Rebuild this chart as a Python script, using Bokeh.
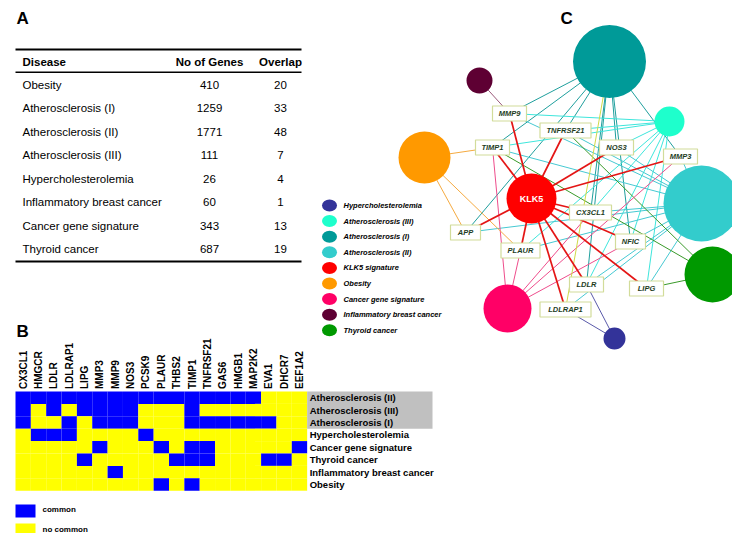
from bokeh.plotting import figure
from bokeh.models import Range1d
from bokeh.core.properties import value
from bokeh.embed import file_html
from bokeh.resources import INLINE
import math

FONT = value("Liberation Sans")

# ---------------- DATA ----------------
# Panel A table
table_diseases = ["Obesity", "Atherosclerosis (I)", "Atherosclerosis (II)", "Atherosclerosis (III)",
                  "Hypercholesterolemia", "Inflammatory breast cancer", "Cancer gene signature",
                  "Thyroid cancer"]
table_genes = [410, 1259, 1771, 111, 26, 60, 343, 687]
table_overlap = [20, 33, 48, 7, 4, 1, 13, 19]
table_headers = ["Disease", "No of Genes", "Overlap"]

# Panel B heatmap
heat_genes = ["CX3CL1", "HMGCR", "LDLR", "LDLRAP1", "LIPG", "MMP3", "MMP9", "NOS3", "PCSK9",
              "PLAUR", "THBS2", "TIMP1", "TNFRSF21", "GAS6", "HMGB1", "MAP2K2", "EVA1",
              "DHCR7", "EEF1A2"]
heat_rows = ["Atherosclerosis (II)", "Atherosclerosis (III)", "Atherosclerosis (I)",
             "Hypercholesterolemia", "Cancer gene signature", "Thyroid cancer",
             "Inflammatory breast cancer", "Obesity"]
heat_common = {
    "Atherosclerosis (II)": ["CX3CL1", "HMGCR", "LDLR", "LDLRAP1", "LIPG", "MMP3", "MMP9", "NOS3",
                             "PCSK9", "PLAUR", "THBS2", "TIMP1", "TNFRSF21", "GAS6", "HMGB1", "MAP2K2"],
    "Atherosclerosis (III)": ["CX3CL1", "LDLR", "LIPG", "MMP3", "MMP9", "NOS3", "TIMP1"],
    "Atherosclerosis (I)": ["CX3CL1", "LDLRAP1", "MMP3", "MMP9", "NOS3", "TIMP1", "TNFRSF21",
                            "GAS6", "HMGB1", "MAP2K2", "EVA1"],
    "Hypercholesterolemia": ["HMGCR", "LDLR", "LDLRAP1", "PCSK9"],
    "Cancer gene signature": ["MMP3", "PLAUR", "TIMP1", "TNFRSF21", "EEF1A2"],
    "Thyroid cancer": ["LIPG", "THBS2", "TIMP1", "TNFRSF21", "EVA1", "DHCR7"],
    "Inflammatory breast cancer": ["MMP9"],
    "Obesity": ["PLAUR", "TIMP1"],
}
heat_highlight = ["Atherosclerosis (II)", "Atherosclerosis (III)", "Atherosclerosis (I)"]
heat_legend = ["common", "no common"]

# Panel C network
net_nodes = ["Atherosclerosis (I)", "Inflammatory breast cancer", "Atherosclerosis (III)",
             "Obesity", "KLK5 signature", "Atherosclerosis (II)", "Thyroid cancer",
             "Cancer gene signature", "Hypercholesterolemia"]
net_genes = ["MMP9", "TNFRSF21", "TIMP1", "NOS3", "MMP3", "CX3CL1", "APP", "NFIC", "PLAUR",
             "LDLR", "LIPG", "LDLRAP1"]
net_edges = {
    "KLK5 signature": ["MMP9", "TNFRSF21", "TIMP1", "NOS3", "MMP3", "CX3CL1", "APP", "NFIC",
                       "PLAUR", "LDLR", "LIPG", "LDLRAP1"],
    "Atherosclerosis (I)": ["MMP9", "APP", "TNFRSF21", "CX3CL1", "NOS3", "NFIC", "MMP3", "LDLR", "TIMP1"],
    "Atherosclerosis (III)": ["MMP9", "TNFRSF21", "TIMP1", "NOS3", "CX3CL1", "LDLR", "LIPG", "NFIC", "PLAUR"],
    "Atherosclerosis (II)": ["APP", "PLAUR", "NFIC", "LIPG", "LDLR", "LDLRAP1", "CX3CL1", "NOS3",
                             "TIMP1", "TNFRSF21", "MMP9", "MMP3"],
    "Thyroid cancer": ["TIMP1", "TNFRSF21", "LIPG"],
    "Cancer gene signature": ["TIMP1", "PLAUR", "CX3CL1", "NFIC", "MMP3"],
    "Obesity": ["TIMP1", "APP", "PLAUR"],
    "Inflammatory breast cancer": ["MMP9"],
    "Hypercholesterolemia": ["LDLR", "LDLRAP1"],
}
net_extra_edges = [("Atherosclerosis (I)", "LDLRAP1")]
legend_order = ["Hypercholesterolemia", "Atherosclerosis (III)", "Atherosclerosis (I)",
                "Atherosclerosis (II)", "KLK5 signature", "Obesity", "Cancer gene signature",
                "Inflammatory breast cancer", "Thyroid cancer"]

# ---------------- STYLE / LAYOUT ----------------
node_color = {
    "Hypercholesterolemia": "#333399", "Atherosclerosis (III)": "#1effcc",
    "Atherosclerosis (I)": "#009a98", "Atherosclerosis (II)": "#33cccc",
    "KLK5 signature": "#ff0000", "Obesity": "#ff9900", "Cancer gene signature": "#ff0066",
    "Inflammatory breast cancer": "#5e0033", "Thyroid cancer": "#009900",
}
edge_color = {
    "KLK5 signature": "#e41515", "Atherosclerosis (I)": "#1f9f9d", "Atherosclerosis (III)": "#3ee6dc",
    "Atherosclerosis (II)": "#46c9d2", "Thyroid cancer": "#3a9a2a", "Cancer gene signature": "#ee4d8c",
    "Obesity": "#f5aa40", "Inflammatory breast cancer": "#9a5a7a", "Hypercholesterolemia": "#5a5aaa",
}
node_pos = {  # x, y, radius (page pixels)
    "Atherosclerosis (I)": (609, 61, 36.5), "Inflammatory breast cancer": (479, 80, 13),
    "Atherosclerosis (III)": (669, 121, 15), "Obesity": (424, 157, 26),
    "KLK5 signature": (531, 198, 25), "Atherosclerosis (II)": (701, 203, 38),
    "Thyroid cancer": (712, 274, 28), "Cancer gene signature": (507, 308, 24),
    "Hypercholesterolemia": (614, 338, 11),
}
gene_pos = {  # x, y, box width
    "MMP9": (509, 113, 34), "TNFRSF21": (565, 130, 51), "TIMP1": (492, 147, 34),
    "NOS3": (616, 147, 34), "MMP3": (680, 156, 34), "CX3CL1": (590, 212, 42),
    "APP": (465, 232, 30), "NFIC": (630, 241, 30), "PLAUR": (520, 250, 39),
    "LDLR": (586, 284, 34), "LIPG": (646, 288, 34), "LDLRAP1": (565, 309, 51),
}

W, H = 732, 533
p = figure(width=W, height=H, x_range=Range1d(0, W), y_range=Range1d(H, 0),
           output_backend="svg", toolbar_location=None, min_border=0,
           x_axis_location=None, y_axis_location=None)
p.xgrid.visible = False
p.ygrid.visible = False
p.outline_line_color = None
p.background_fill_color = "white"
p.border_fill_color = "white"


def put_text(xs, ys, texts, size, style="normal", color="black", align="left",
             baseline="middle", angle=0.0):
    p.text(x=xs, y=ys, text=texts, text_font=FONT, text_font_size=size,
           text_font_style=style, text_color=color, text_align=align,
           text_baseline=baseline, angle=angle)


# Panel letters
put_text([16, 16, 560], [18, 331, 18], ["A", "B", "C"], "17px", "bold")

# ---------------- Panel A: table ----------------
tx0, tx1 = 15, 301
p.segment(x0=[tx0, tx0, tx0], y0=[49, 71.8, 261], x1=[tx1, tx1, tx1], y1=[49, 71.8, 261],
          line_color="black", line_width=[2, 1.5, 2])
col_x = [22, 209, 280]
put_text([col_x[0]], [61], [table_headers[0]], "11.5px", "bold")
put_text(col_x[1:], [61, 61], table_headers[1:], "11.5px", "bold", align="center")
row_y = [84.3 + 23.45 * i for i in range(len(table_diseases))]
put_text([col_x[0]] * len(row_y), row_y, table_diseases, "11.5px")
put_text([col_x[1]] * len(row_y), row_y, [str(v) for v in table_genes], "11.5px", align="center")
put_text([col_x[2]] * len(row_y), row_y, [str(v) for v in table_overlap], "11.5px", align="center")

# ---------------- Panel B: heatmap ----------------
hx0, hy0, cw, ch = 15, 391, 15.35, 12.4
cx, cy, cc = [], [], []
for i, r in enumerate(heat_rows):
    for j, g in enumerate(heat_genes):
        cx.append(hx0 + (j + 0.5) * cw)
        cy.append(hy0 + (i + 0.5) * ch)
        cc.append("#0000ff" if g in heat_common[r] else "#ffff00")
p.rect(x=cx, y=cy, width=cw, height=ch, fill_color=cc, line_color=None)
hx1 = hx0 + cw * len(heat_genes)
nh = len(heat_highlight)
p.quad(left=[hx1], right=[432], top=[hy0], bottom=[hy0 + nh * ch], fill_color="#c0c0c0", line_color=None)
put_text([hx1 + 2.5] * len(heat_rows), [hy0 + (i + 0.5) * ch for i in range(len(heat_rows))],
         heat_rows, "9.5px", "bold")
put_text([hx0 + (j + 0.5) * cw for j in range(len(heat_genes))], [hy0 - 2.5] * len(heat_genes),
         heat_genes, "10px", "bold", align="left", baseline="middle", angle=math.pi / 2)
p.quad(left=[15, 15], right=[35, 35], top=[504, 523], bottom=[517, 537],
       fill_color=["#0000ff", "#ffff00"], line_color=None)
put_text([42, 42], [509, 529], heat_legend, "8px", "bold")

# ---------------- Panel C: network ----------------
exs, eys, ecol, ew = [], [], [], []
for src, targets in net_edges.items():
    sx, sy, _ = node_pos[src]
    for t in targets:
        gx, gy, _ = gene_pos[t]
        exs.append([sx, gx]); eys.append([sy, gy])
        ecol.append(edge_color[src]); ew.append(1.7 if src == "KLK5 signature" else 1.0)
for src, t in net_extra_edges:
    sx, sy, _ = node_pos[src]
    gx, gy, _ = gene_pos[t]
    exs.append([sx, gx]); eys.append([sy, gy]); ecol.append("#cfd94a"); ew.append(1.0)
order = sorted(range(len(exs)), key=lambda k: ew[k])
p.multi_line(xs=[exs[k] for k in order], ys=[eys[k] for k in order],
             line_color=[ecol[k] for k in order], line_width=[ew[k] for k in order])

p.circle(x=[node_pos[n][0] for n in net_nodes], y=[node_pos[n][1] for n in net_nodes],
         radius=[node_pos[n][2] for n in net_nodes],
         fill_color=[node_color[n] for n in net_nodes], line_color=None)
kx, ky, _ = node_pos["KLK5 signature"]
put_text([kx], [ky], ["KLK5"], "9px", "bold", color="white", align="center")

p.rect(x=[gene_pos[g][0] for g in net_genes], y=[gene_pos[g][1] for g in net_genes],
       width=[gene_pos[g][2] for g in net_genes], height=15,
       fill_color="white", line_color="#d2dc9a", line_width=1.2)
put_text([gene_pos[g][0] for g in net_genes], [gene_pos[g][1] for g in net_genes], net_genes,
         "7.5px", "bold italic", color="#1e3d1e", align="center")

ly = [205 + 15.6 * i for i in range(len(legend_order))]
p.ellipse(x=[329] * len(ly), y=ly, width=15, height=12,
          fill_color=[node_color[n] for n in legend_order], line_color=None)
put_text([343] * len(ly), ly, legend_order, "7.5px", "bold italic")

open("out.html", "w").write(file_html(p, INLINE))
